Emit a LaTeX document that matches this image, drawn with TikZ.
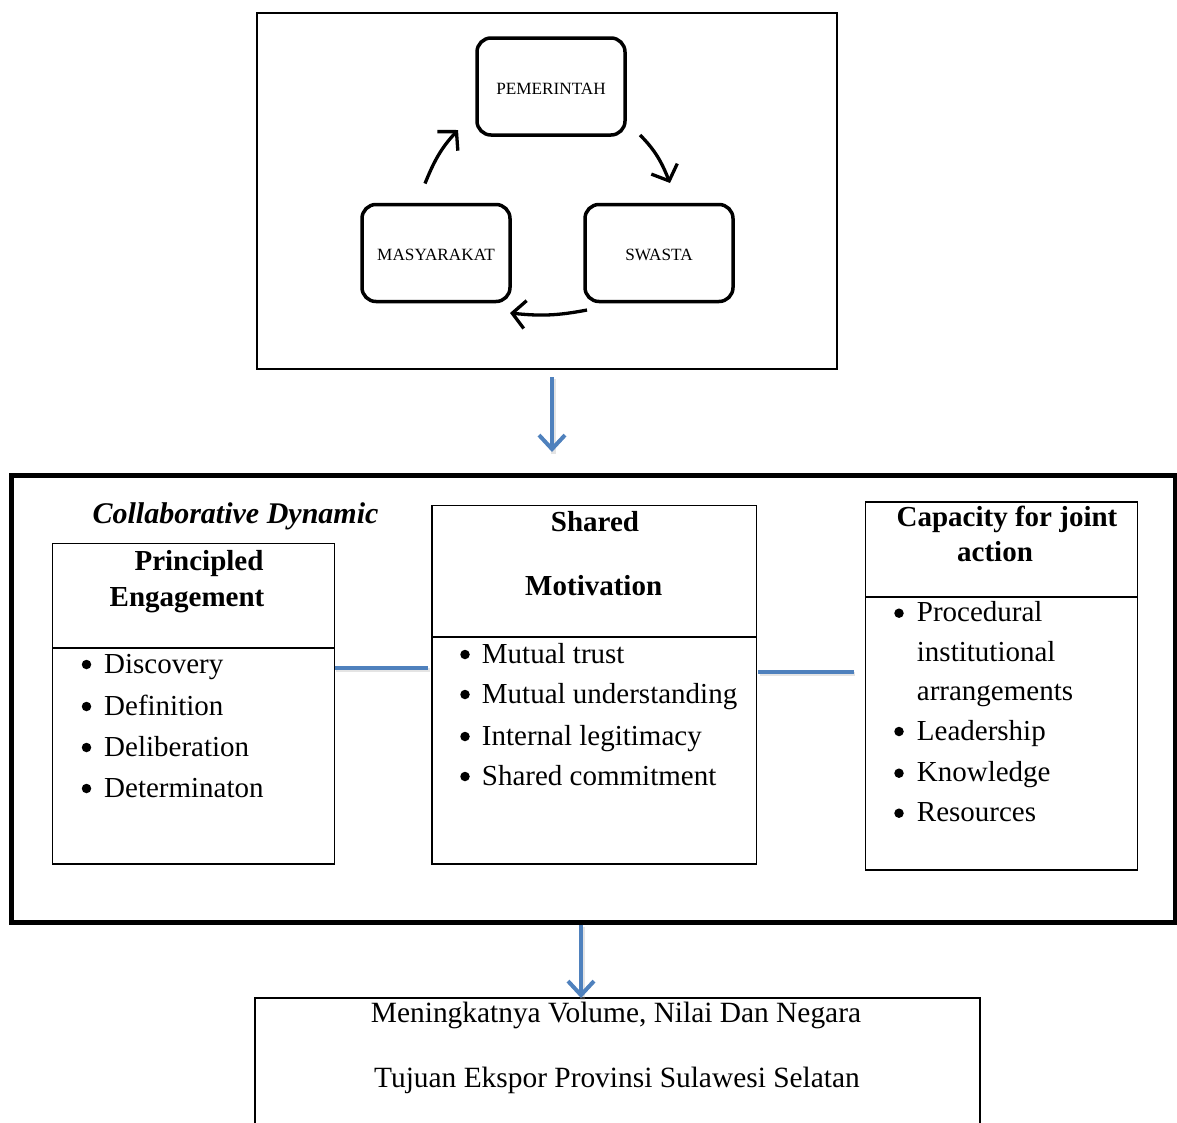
\documentclass[tikz,border=0pt]{standalone}
\usepackage{fontspec}
\setmainfont{Liberation Serif}
\usetikzlibrary{arrows.meta}
\definecolor{flowblue}{HTML}{4F81BD}

\begin{document}
\begin{tikzpicture}[x=1pt,y=1pt,
  actor/.style={draw, line width=3.5pt, rounded corners=14pt, minimum width=148pt,
    minimum height=97pt, inner sep=0pt, outer sep=0pt, text depth=0pt,
    font=\fontsize{17.2}{20}\selectfont},
  cycarrow/.style={line width=3.3pt, -{Straight Barb[length=13pt,width=28pt]}},
  frame/.style={draw, line width=2pt, inner sep=0pt, outer sep=0pt},
  panel/.style={draw, line width=1.8pt, inner sep=0pt, outer sep=0pt},
  rule/.style={line width=1.8pt},
  title/.style={anchor=base, inner sep=0pt, font=\fontsize{29}{34}\selectfont\bfseries},
  item/.style={anchor=base west, inner sep=0pt, font=\fontsize{29}{34}\selectfont},
  bul/.style={circle, fill, inner sep=0pt, minimum size=9.5pt, yshift=8.5pt},
  plain/.style={anchor=base, inner sep=0pt, font=\fontsize{29.4}{34}\selectfont},
  flow/.style={draw=flowblue, line width=4pt},
  flowshade/.style={draw=black!35, line width=4.5pt, opacity=0.3,
    transform canvas={shift={(1.5pt,-2pt)}}},
  flowtip/.style={-{Straight Barb[length=14pt,width=26pt]}},
]
\useasboundingbox (0,0) rectangle (1177,-1122);
\clip (0,0) rectangle (1177,-1122);

% --- three actors in a cycle ---
\node[frame, minimum width=580, minimum height=356] (top) at (547,-191) {};
\node[actor, text height=16.8pt] (gov) at (551,-86.5) {PEMERINTAH};
\node[actor, text height=14.2pt] (pub) at (436,-253) {MASYARAKAT};
\node[actor, text height=14.2pt] (prv) at (659,-253) {SWASTA};

\draw[cycarrow] ([shift={(-11,21)}]pub.north) to[out=68,in=227] ([shift={(-19,5)}]gov.south west);
\draw[cycarrow] ([shift={(15,0)}]gov.south east) to[out=-45,in=112] ([shift={(11,21.5)}]prv.north);
\draw[cycarrow] ([shift={(2,-8.5)}]prv.south west) to[out=191,in=-6] ([shift={(0,-11.5)}]pub.south east);

% --- collaborative dynamic frame ---
\node[draw, line width=4.5pt, inner sep=0pt, outer sep=0pt,
  minimum width=1163.5, minimum height=447] (big) at (593.25,-699) {};

\coordinate (drop1) at (552,0);
\draw[flowshade, shorten <=8pt, shorten >=23.5pt] (top.south -| drop1) -- (big.north -| drop1);
\draw[flow, flowtip, shorten <=8pt, shorten >=23.5pt] (top.south -| drop1) -- (big.north -| drop1);

\node[anchor=base, inner sep=0pt, font=\fontsize{30}{34}\selectfont\bfseries\itshape]
  (cdlabel) at (235.5,-523.3) {Collaborative Dynamic};

% principled engagement
\node[panel, minimum width=282, minimum height=320.5] (pe) at (193.5,-703.75) {};
\draw[rule] ([yshift=-104.8]pe.north west) -- ([yshift=-104.8]pe.north east);
\node[title] (pe-t1) at (199,-570) {Principled};
\node[title] (pe-t2) at (187,-606.7) {Engagement};
\foreach \txt/\y [count=\i] in {Discovery/673, Definition/715, Deliberation/756, Determinaton/797} {
  \node[bul] (pe-b\i) at (86.5,-\y) {};
  \node[item] (pe-i\i) at (104,-\y) {\txt};
}

% shared motivation
\node[panel, minimum width=324.5, minimum height=358.5] (sm) at (594.25,-684.75) {};
\draw[rule] ([yshift=-131.2]sm.north west) -- ([yshift=-131.2]sm.north east);
\node[title] (sm-t1) at (595,-531.7) {Shared};
\node[title] (sm-t2) at (593.7,-595.7) {Motivation};
\foreach \txt/\y [count=\i] in {Mutual trust/663, Mutual understanding/703, Internal legitimacy/745, Shared commitment/785} {
  \node[bul] (sm-b\i) at (465,-\y) {};
  \node[item] (sm-i\i) at (481.7,-\y) {\txt};
}

% capacity for joint action
\node[panel, minimum width=272, minimum height=368] (ca) at (1001.5,-686) {};
\draw[rule] ([yshift=-95]ca.north west) -- ([yshift=-95]ca.north east);
\node[title] (ca-t1) at (1007,-526) {Capacity for joint};
\node[title] (ca-t2) at (995,-561.7) {action};
\node[bul] (ca-b1) at (899,-621.7) {};
\node[item] (ca-i1) at (916.7,-621.7) {Procedural};
\node[item] (ca-i1b) at (916.7,-661.7) {institutional};
\node[item] (ca-i1c) at (916.7,-700) {arrangements};
\foreach \txt/\y [count=\i from 2] in {Leadership/740, Knowledge/781.7, Resources/821.7} {
  \node[bul] (ca-b\i) at (899,-\y) {};
  \node[item] (ca-i\i) at (916.7,-\y) {\txt};
}

% links between the three components
\coordinate (lk1) at (0,-668);
\coordinate (lk2) at (0,-672);
\draw[flowshade, shorten >=4pt] (pe.east |- lk1) -- (sm.west |- lk1);
\draw[flow, shorten >=4pt] (pe.east |- lk1) -- (sm.west |- lk1);
\draw[flowshade, shorten <=1.5pt, shorten >=12pt] (sm.east |- lk2) -- (ca.west |- lk2);
\draw[flow, shorten <=1.5pt, shorten >=12pt] (sm.east |- lk2) -- (ca.west |- lk2);

% --- outcome ---
\node[panel, minimum width=725, minimum height=200] (res) at (617.5,-1098) {};
\node[plain] (res-l1) at (616,-1022) {Meningkatnya Volume, Nilai Dan Negara};
\node[plain] (res-l2) at (617,-1087) {Tujuan Ekspor Provinsi Sulawesi Selatan};

\coordinate (drop2) at (581,0);
\draw[flowshade, shorten <=2pt] (big.south -| drop2) -- (res.north -| drop2);
\draw[flow, flowtip, shorten <=2pt] (big.south -| drop2) -- (res.north -| drop2);
\end{tikzpicture}
\end{document}
